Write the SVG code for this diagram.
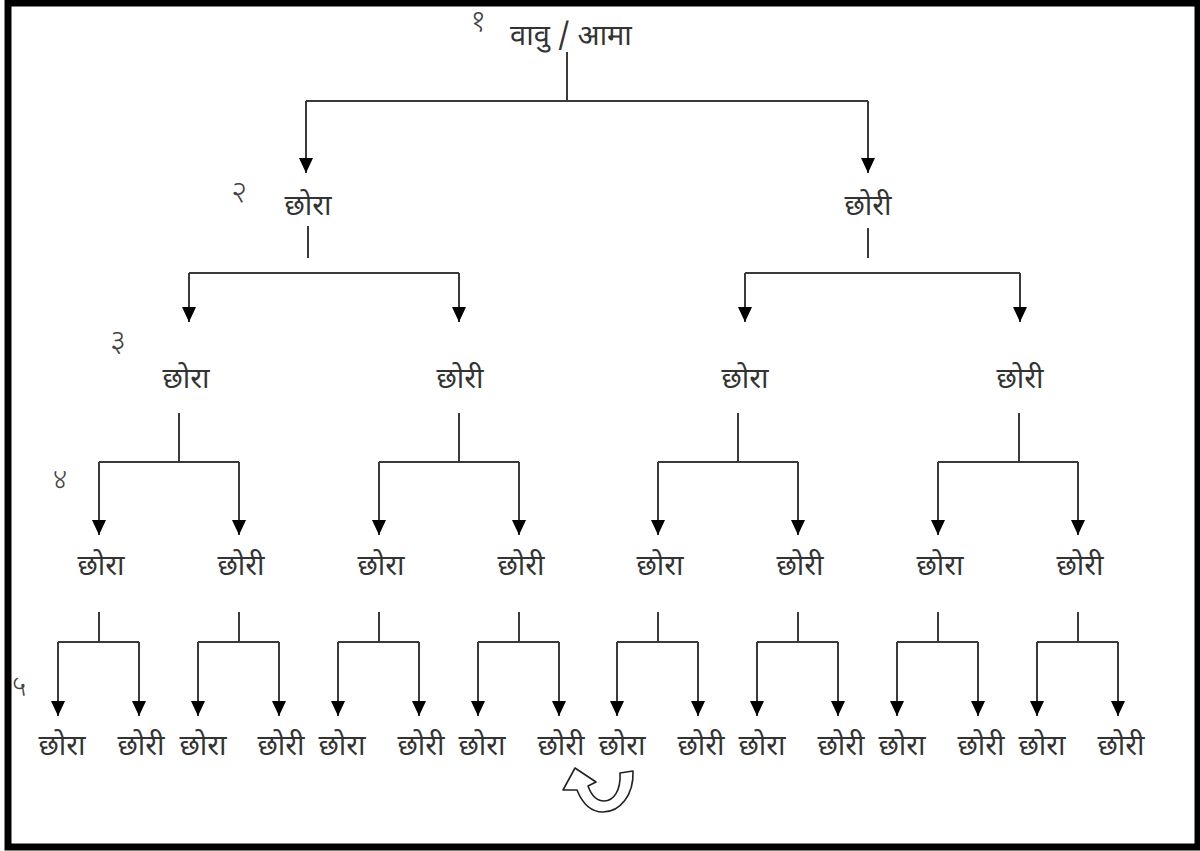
<svg xmlns="http://www.w3.org/2000/svg" width="1200" height="851" viewBox="0 0 1200 851">
<style>
.t{font-family:"Noto Sans Devanagari","Noto Sans","Lohit Devanagari",sans-serif;font-size:29px;fill:#333;text-anchor:middle}
.n{font-family:"Noto Sans Devanagari","Noto Sans",sans-serif;font-size:31px;font-weight:300;fill:#444;text-anchor:middle}
.s{font-size:28px}
.c{fill:none;stroke:#3a3a3a;stroke-width:2}
.a{fill:none;stroke:#3a3a3a;stroke-width:2;marker-end:url(#ah)}
</style>
<defs>
<marker id="ah" markerUnits="userSpaceOnUse" markerWidth="16" markerHeight="16" viewBox="0 0 16 16" refX="8" refY="15" orient="0">
<path d="M1 0 L15 0 L8 15 Z" fill="#000"/>
</marker>
</defs>
<rect x="0" y="0" width="1200" height="851" fill="#fff"/>
<rect x="8" y="3" width="1190" height="844" fill="none" stroke="#000" stroke-width="7"/>

<g id="levels">
<text class="n" x="478" y="31">१</text>
<text class="n" x="239" y="202">२</text>
<text class="n" x="118" y="351">३</text>
<text class="n s" x="60" y="489">४</text>
<text class="n s" x="19" y="696">५</text>
</g>

<g id="connectors">
<path class="c" d="M567 52 V101 M306 101 H868 M308 226 V258 M868 228 V258 M189 273 H459 M745 273 H1020 M179 413 V462 M99 462 H239 M459 413 V462 M379 462 H519 M738 413 V462 M658 462 H798 M1019 413 V462 M938 462 H1078 M99 612 V642 M58 642 H139 M239 612 V642 M198 642 H279 M379 612 V642 M338 642 H419 M519 612 V642 M478 642 H559 M658 612 V642 M617 642 H698 M798 612 V642 M757 642 H838 M938 612 V642 M897 642 H978 M1078 612 V642 M1037 642 H1118"/>
<path class="a" d="M306 101 V173"/>
<path class="a" d="M868 101 V173"/>
<path class="a" d="M189 273 V322"/>
<path class="a" d="M459 273 V322"/>
<path class="a" d="M745 273 V322"/>
<path class="a" d="M1020 273 V322"/>
<path class="a" d="M99 462 V535"/>
<path class="a" d="M239 462 V535"/>
<path class="a" d="M379 462 V535"/>
<path class="a" d="M519 462 V535"/>
<path class="a" d="M658 462 V535"/>
<path class="a" d="M798 462 V535"/>
<path class="a" d="M938 462 V535"/>
<path class="a" d="M1078 462 V535"/>
<path class="a" d="M58 642 V716"/>
<path class="a" d="M139 642 V716"/>
<path class="a" d="M198 642 V716"/>
<path class="a" d="M279 642 V716"/>
<path class="a" d="M338 642 V716"/>
<path class="a" d="M419 642 V716"/>
<path class="a" d="M478 642 V716"/>
<path class="a" d="M559 642 V716"/>
<path class="a" d="M617 642 V716"/>
<path class="a" d="M698 642 V716"/>
<path class="a" d="M757 642 V716"/>
<path class="a" d="M838 642 V716"/>
<path class="a" d="M897 642 V716"/>
<path class="a" d="M978 642 V716"/>
<path class="a" d="M1037 642 V716"/>
<path class="a" d="M1118 642 V716"/>
</g>

<g id="root"><text class="t" x="571" y="45" font-size="30">वावु / आमा</text></g>
<g id="l2"><text class="t" x="308" y="215">छोरा</text></g>
<g id="r2"><text class="t" x="868" y="215">छोरी</text></g>
<g id="l3a"><text class="t" x="186" y="388">छोरा</text></g>
<g id="l3b"><text class="t" x="460" y="388">छोरी</text></g>
<g id="l3c"><text class="t" x="745" y="388">छोरा</text></g>
<g id="l3d"><text class="t" x="1020" y="388">छोरी</text></g>
<g id="l4a"><text class="t" x="101" y="575">छोरा</text></g>
<g id="l4b"><text class="t" x="241" y="575">छोरी</text></g>
<g id="l4c"><text class="t" x="381" y="575">छोरा</text></g>
<g id="l4d"><text class="t" x="521" y="575">छोरी</text></g>
<g id="l4e"><text class="t" x="660" y="575">छोरा</text></g>
<g id="l4f"><text class="t" x="800" y="575">छोरी</text></g>
<g id="l4g"><text class="t" x="940" y="575">छोरा</text></g>
<g id="l4h"><text class="t" x="1080" y="575">छोरी</text></g>
<g id="l5a"><text class="t" x="62" y="755">छोरा</text></g>
<g id="l5b"><text class="t" x="141" y="755">छोरी</text></g>
<g id="l5c"><text class="t" x="203" y="755">छोरा</text></g>
<g id="l5d"><text class="t" x="281" y="755">छोरी</text></g>
<g id="l5e"><text class="t" x="342" y="755">छोरा</text></g>
<g id="l5f"><text class="t" x="421" y="755">छोरी</text></g>
<g id="l5g"><text class="t" x="482" y="755">छोरा</text></g>
<g id="l5h"><text class="t" x="561" y="755">छोरी</text></g>
<g id="l5i"><text class="t" x="622" y="755">छोरा</text></g>
<g id="l5j"><text class="t" x="701" y="755">छोरी</text></g>
<g id="l5k"><text class="t" x="762" y="755">छोरा</text></g>
<g id="l5l"><text class="t" x="841" y="755">छोरी</text></g>
<g id="l5m"><text class="t" x="902" y="755">छोरा</text></g>
<g id="l5n"><text class="t" x="981" y="755">छोरी</text></g>
<g id="l5o"><text class="t" x="1042" y="755">छोरा</text></g>
<g id="l5p"><text class="t" x="1121" y="755">छोरी</text></g>

<g id="cycle">
<path d="M620 773 L633 771 C634 795 620 812 603 812 C592 812 583 805 577 790 L563 790 L575 768 L596 782 L588 786 C592 797 597 801 604 801 C614 801 621 790 620 773 Z" fill="#fff" stroke="#222" stroke-width="1.6" stroke-linejoin="round"/>
</g>
</svg>
